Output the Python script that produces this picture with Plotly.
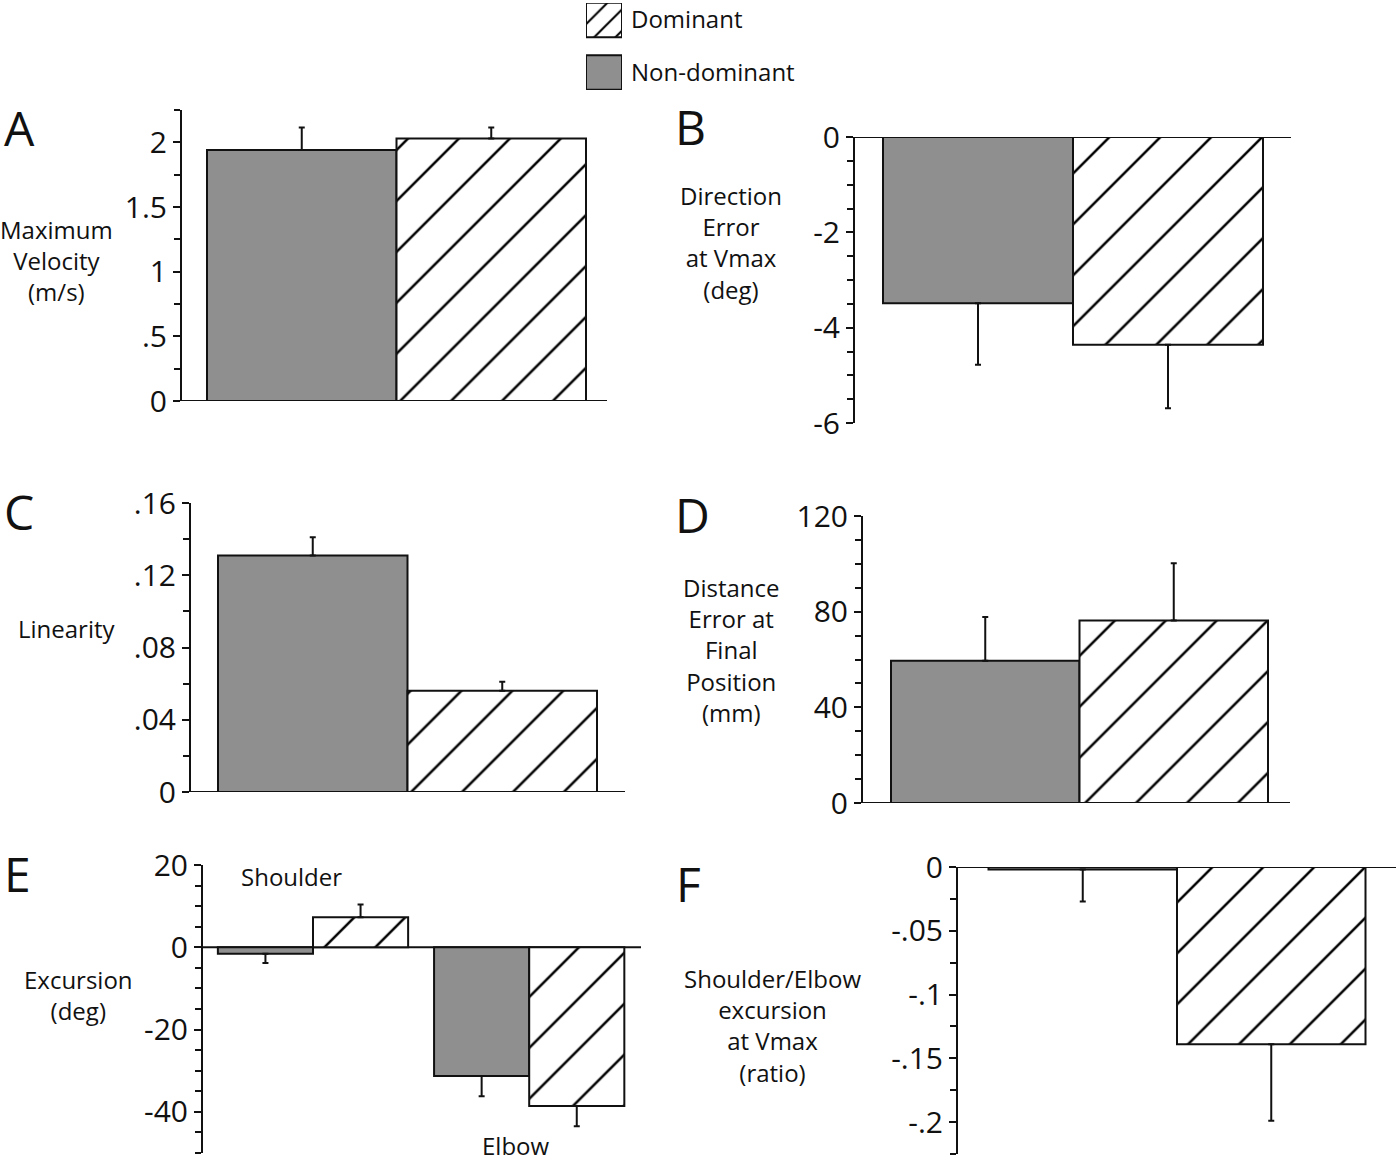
import plotly.graph_objects as go

W, H = 1396, 1162
GREY = "#8f8f8f"
INK = "#111111"
FONT = "Open Sans"
BARGAP = 0.12

# ---------------- data ----------------
series_names = ["Non-dominant", "Dominant"]

# A  Maximum velocity (m/s)
vel_cats = ["Maximum Velocity"]
vel_nd = [1.94]
vel_nd_err = [0.175]
vel_d = [2.03]
vel_d_err = [0.085]
vel_tickvals = [0, 0.5, 1, 1.5, 2]
vel_ticktext = ["0", ".5", "1", "1.5", "2"]

# B  Direction error at Vmax (deg)
dir_cats = ["Direction Error"]
dir_nd = [-3.49]
dir_nd_err = [1.29]
dir_d = [-4.36]
dir_d_err = [1.33]
dir_tickvals = [0, -2, -4, -6]
dir_ticktext = ["0", "-2", "-4", "-6"]

# C  Linearity
lin_cats = ["Linearity"]
lin_nd = [0.131]
lin_nd_err = [0.010]
lin_d = [0.056]
lin_d_err = [0.005]
lin_tickvals = [0, 0.04, 0.08, 0.12, 0.16]
lin_ticktext = ["0", ".04", ".08", ".12", ".16"]

# D  Distance error at final position (mm)
dist_cats = ["Distance Error"]
dist_nd = [59.5]
dist_nd_err = [18.3]
dist_d = [76.3]
dist_d_err = [23.9]
dist_tickvals = [0, 40, 80, 120]
dist_ticktext = ["0", "40", "80", "120"]

# E  Excursion (deg)
exc_cats = ["Shoulder", "Elbow"]
exc_nd = [-1.6, -31.3]
exc_nd_err = [2.2, 4.9]
exc_d = [7.3, -38.6]
exc_d_err = [3.1, 4.9]
exc_tickvals = [20, 0, -20, -40]
exc_ticktext = ["20", "0", "-20", "-40"]

# F  Shoulder/Elbow excursion at Vmax (ratio)
rat_cats = ["Ratio"]
rat_nd = [-0.002]
rat_nd_err = [0.025]
rat_d = [-0.139]
rat_d_err = [0.060]
rat_tickvals = [0, -0.05, -0.1, -0.15, -0.2]
rat_ticktext = ["0", "-.05", "-.1", "-.15", "-.2"]

legend_swatch = [1]

# ---------------- layout geometry (pixels) ----------------
panels = [
    dict(cats=vel_cats, nd=vel_nd, nde=vel_nd_err, d=vel_d, de=vel_d_err,
         yr=[0, 2.25], tv=vel_tickvals, tt=vel_ticktext, minor=0.25,
         L=182, R=607, c0=396.5, unit=379 / (1 - BARGAP), top=110, bot=401),
    dict(cats=dir_cats, nd=dir_nd, nde=dir_nd_err, d=dir_d, de=dir_d_err,
         yr=[-6, 0], tv=dir_tickvals, tt=dir_ticktext, minor=0.5,
         L=855, R=1291, c0=1073, unit=380 / (1 - BARGAP), top=137, bot=423),
    dict(cats=lin_cats, nd=lin_nd, nde=lin_nd_err, d=lin_d, de=lin_d_err,
         yr=[0, 0.16], tv=lin_tickvals, tt=lin_ticktext, minor=0.02,
         L=191, R=625, c0=407.5, unit=379 / (1 - BARGAP), top=503, bot=792),
    dict(cats=dist_cats, nd=dist_nd, nde=dist_nd_err, d=dist_d, de=dist_d_err,
         yr=[0, 120], tv=dist_tickvals, tt=dist_ticktext, minor=10,
         L=863, R=1290, c0=1079.5, unit=377 / (1 - BARGAP), top=516, bot=803),
    dict(cats=exc_cats, nd=exc_nd, nde=exc_nd_err, d=exc_d, de=exc_d_err,
         yr=[-50, 20], tv=exc_tickvals, tt=exc_ticktext, minor=5,
         L=203, R=641, c0=313, unit=216.2, top=865, bot=1153),
    dict(cats=rat_cats, nd=rat_nd, nde=rat_nd_err, d=rat_d, de=rat_d_err,
         yr=[-0.225, 0], tv=rat_tickvals, tt=rat_ticktext, minor=0.025,
         L=958, R=1396, c0=1177, unit=377 / (1 - BARGAP), top=867, bot=1154),
]


def err_parts(vals, errs):
    plus = [e if v >= 0 else 0 for v, e in zip(vals, errs)]
    minus = [e if v < 0 else 0 for v, e in zip(vals, errs)]
    return plus, minus


HATCH = dict(shape="/", fgcolor="#000000", fgopacity=1, bgcolor="white",
             size=36, solidity=0.07)

fig = go.Figure()
layout_axes = {}
shapes = []

for i, p in enumerate(panels):
    n = i + 1
    xa = "x" if n == 1 else f"x{n}"
    ya = "y" if n == 1 else f"y{n}"
    xkey = "xaxis" if n == 1 else f"xaxis{n}"
    ykey = "yaxis" if n == 1 else f"yaxis{n}"

    ndp, ndm = err_parts(p["nd"], p["nde"])
    dp, dm = err_parts(p["d"], p["de"])

    fig.add_trace(go.Bar(
        x=p["cats"], y=p["nd"], name=series_names[0], xaxis=xa, yaxis=ya,
        marker=dict(color=GREY, line=dict(color=INK, width=2)),
        error_y=dict(type="data", symmetric=False, array=ndp, arrayminus=ndm,
                     color=INK, thickness=2, width=3),
        showlegend=False, hoverinfo="skip"))
    fig.add_trace(go.Bar(
        x=p["cats"], y=p["d"], name=series_names[1], xaxis=xa, yaxis=ya,
        marker=dict(color="white", pattern=HATCH, line=dict(color=INK, width=2)),
        error_y=dict(type="data", symmetric=False, array=dp, arrayminus=dm,
                     color=INK, thickness=2, width=3),
        showlegend=False, hoverinfo="skip"))

    layout_axes[xkey] = dict(
        domain=[p["L"] / W, p["R"] / W], anchor=ya, type="category",
        categoryorder="array", categoryarray=p["cats"],
        range=[(p["L"] - p["c0"]) / p["unit"], (p["R"] - p["c0"]) / p["unit"]],
        showticklabels=False, ticks="", showline=False, showgrid=False,
        zeroline=False, fixedrange=True)
    layout_axes[ykey] = dict(
        domain=[1 - p["bot"] / H, 1 - p["top"] / H], anchor=xa, range=p["yr"],
        showline=True, linecolor=INK, linewidth=2,
        ticks="outside", ticklen=7, tickwidth=2, tickcolor=INK,
        tickmode="array", tickvals=p["tv"], ticktext=p["tt"],
        tickfont=dict(family=FONT, size=30, color=INK),
        showgrid=False, zeroline=False, fixedrange=True, automargin=False,
        minor=dict(tickmode="linear", tick0=0, dtick=p["minor"], ticks="outside",
                   ticklen=6, tickwidth=2, tickcolor=INK, showgrid=False))
    shapes.append(dict(type="line", xref=f"{xa} domain", yref=ya,
                       x0=0, x1=1, y0=0, y1=0,
                       line=dict(color=INK, width=2), layer="below"))

# ---------------- legend (drawn as a tiny bar subplot) ----------------
leg_top, leg_bot = 3, 90
leg_c_nd, leg_c_d = 72.5, 20.0
leg_unit = leg_c_nd - leg_c_d
leg_cats = series_names
fig.add_trace(go.Bar(
    y=[leg_cats[0]], x=legend_swatch, orientation="h", xaxis="x7", yaxis="y7",
    offsetgroup="leg", width=34.5 / leg_unit,
    marker=dict(color=GREY, line=dict(color=INK, width=2)),
    showlegend=False, hoverinfo="skip"))
fig.add_trace(go.Bar(
    y=[leg_cats[1]], x=legend_swatch, orientation="h", xaxis="x7", yaxis="y7",
    offsetgroup="leg", width=34.5 / leg_unit,
    marker=dict(color="white", line=dict(color=INK, width=2),
                pattern=dict(shape="/", fgcolor="#000000", fgopacity=1,
                             bgcolor="white", size=15, solidity=0.14)),
    showlegend=False, hoverinfo="skip"))
layout_axes["xaxis7"] = dict(domain=[586 / W, 622 / W], anchor="y7", range=[0, 1],
                             visible=False, fixedrange=True)
layout_axes["yaxis7"] = dict(
    domain=[1 - leg_bot / H, 1 - leg_top / H], anchor="x7", type="category",
    categoryorder="array", categoryarray=leg_cats, side="right",
    range=[-(leg_bot - leg_c_nd) / leg_unit, 1 + (leg_c_d - leg_top) / leg_unit],
    showline=False, ticks="", showgrid=False, zeroline=False,
    ticklabelstandoff=8, tickfont=dict(family=FONT, size=24, color=INK),
    fixedrange=True, automargin=False)

# ---------------- text ----------------
annotations = []


def txt(x, y, s, size, anchor="center"):
    annotations.append(dict(
        xref="paper", yref="paper", x=x / W, y=1 - y / H, text=s,
        showarrow=False, xanchor=anchor, yanchor="middle", align="center",
        font=dict(family=FONT, size=size, color=INK)))


for letter, (lx, ly) in zip("ABCDEF", [(19, 127), (690, 126), (19, 512),
                                       (692, 514), (17, 873), (688, 883)]):
    txt(lx, ly, letter, 48)

txt(56, 261, "Maximum<br>Velocity<br>(m/s)", 24)
txt(731, 243, "Direction<br>Error<br>at Vmax<br>(deg)", 24)
txt(67, 628, "Linearity", 24)
txt(731, 650, "Distance<br>Error at<br>Final<br>Position<br>(mm)", 24)
txt(78, 995, "Excursion<br>(deg)", 24)
txt(773, 1025, "Shoulder/Elbow<br>excursion<br>at Vmax<br>(ratio)", 24)
txt(291, 876, exc_cats[0], 24)
txt(516, 1145, exc_cats[1], 24)

fig.update_layout(
    width=W, height=H,
    margin=dict(l=0, r=0, t=0, b=0, pad=0, autoexpand=False),
    paper_bgcolor="white", plot_bgcolor="white",
    barmode="group", bargap=BARGAP, bargroupgap=0,
    showlegend=False, font=dict(family=FONT, color=INK),
    shapes=shapes, annotations=annotations, **layout_axes)

fig.write_html(
    "out.html",
    config={"displayModeBar": False, "staticPlot": True},
    post_script="document.body.style.margin='0';document.body.style.padding='0';"
                "document.body.style.overflow='hidden';")
